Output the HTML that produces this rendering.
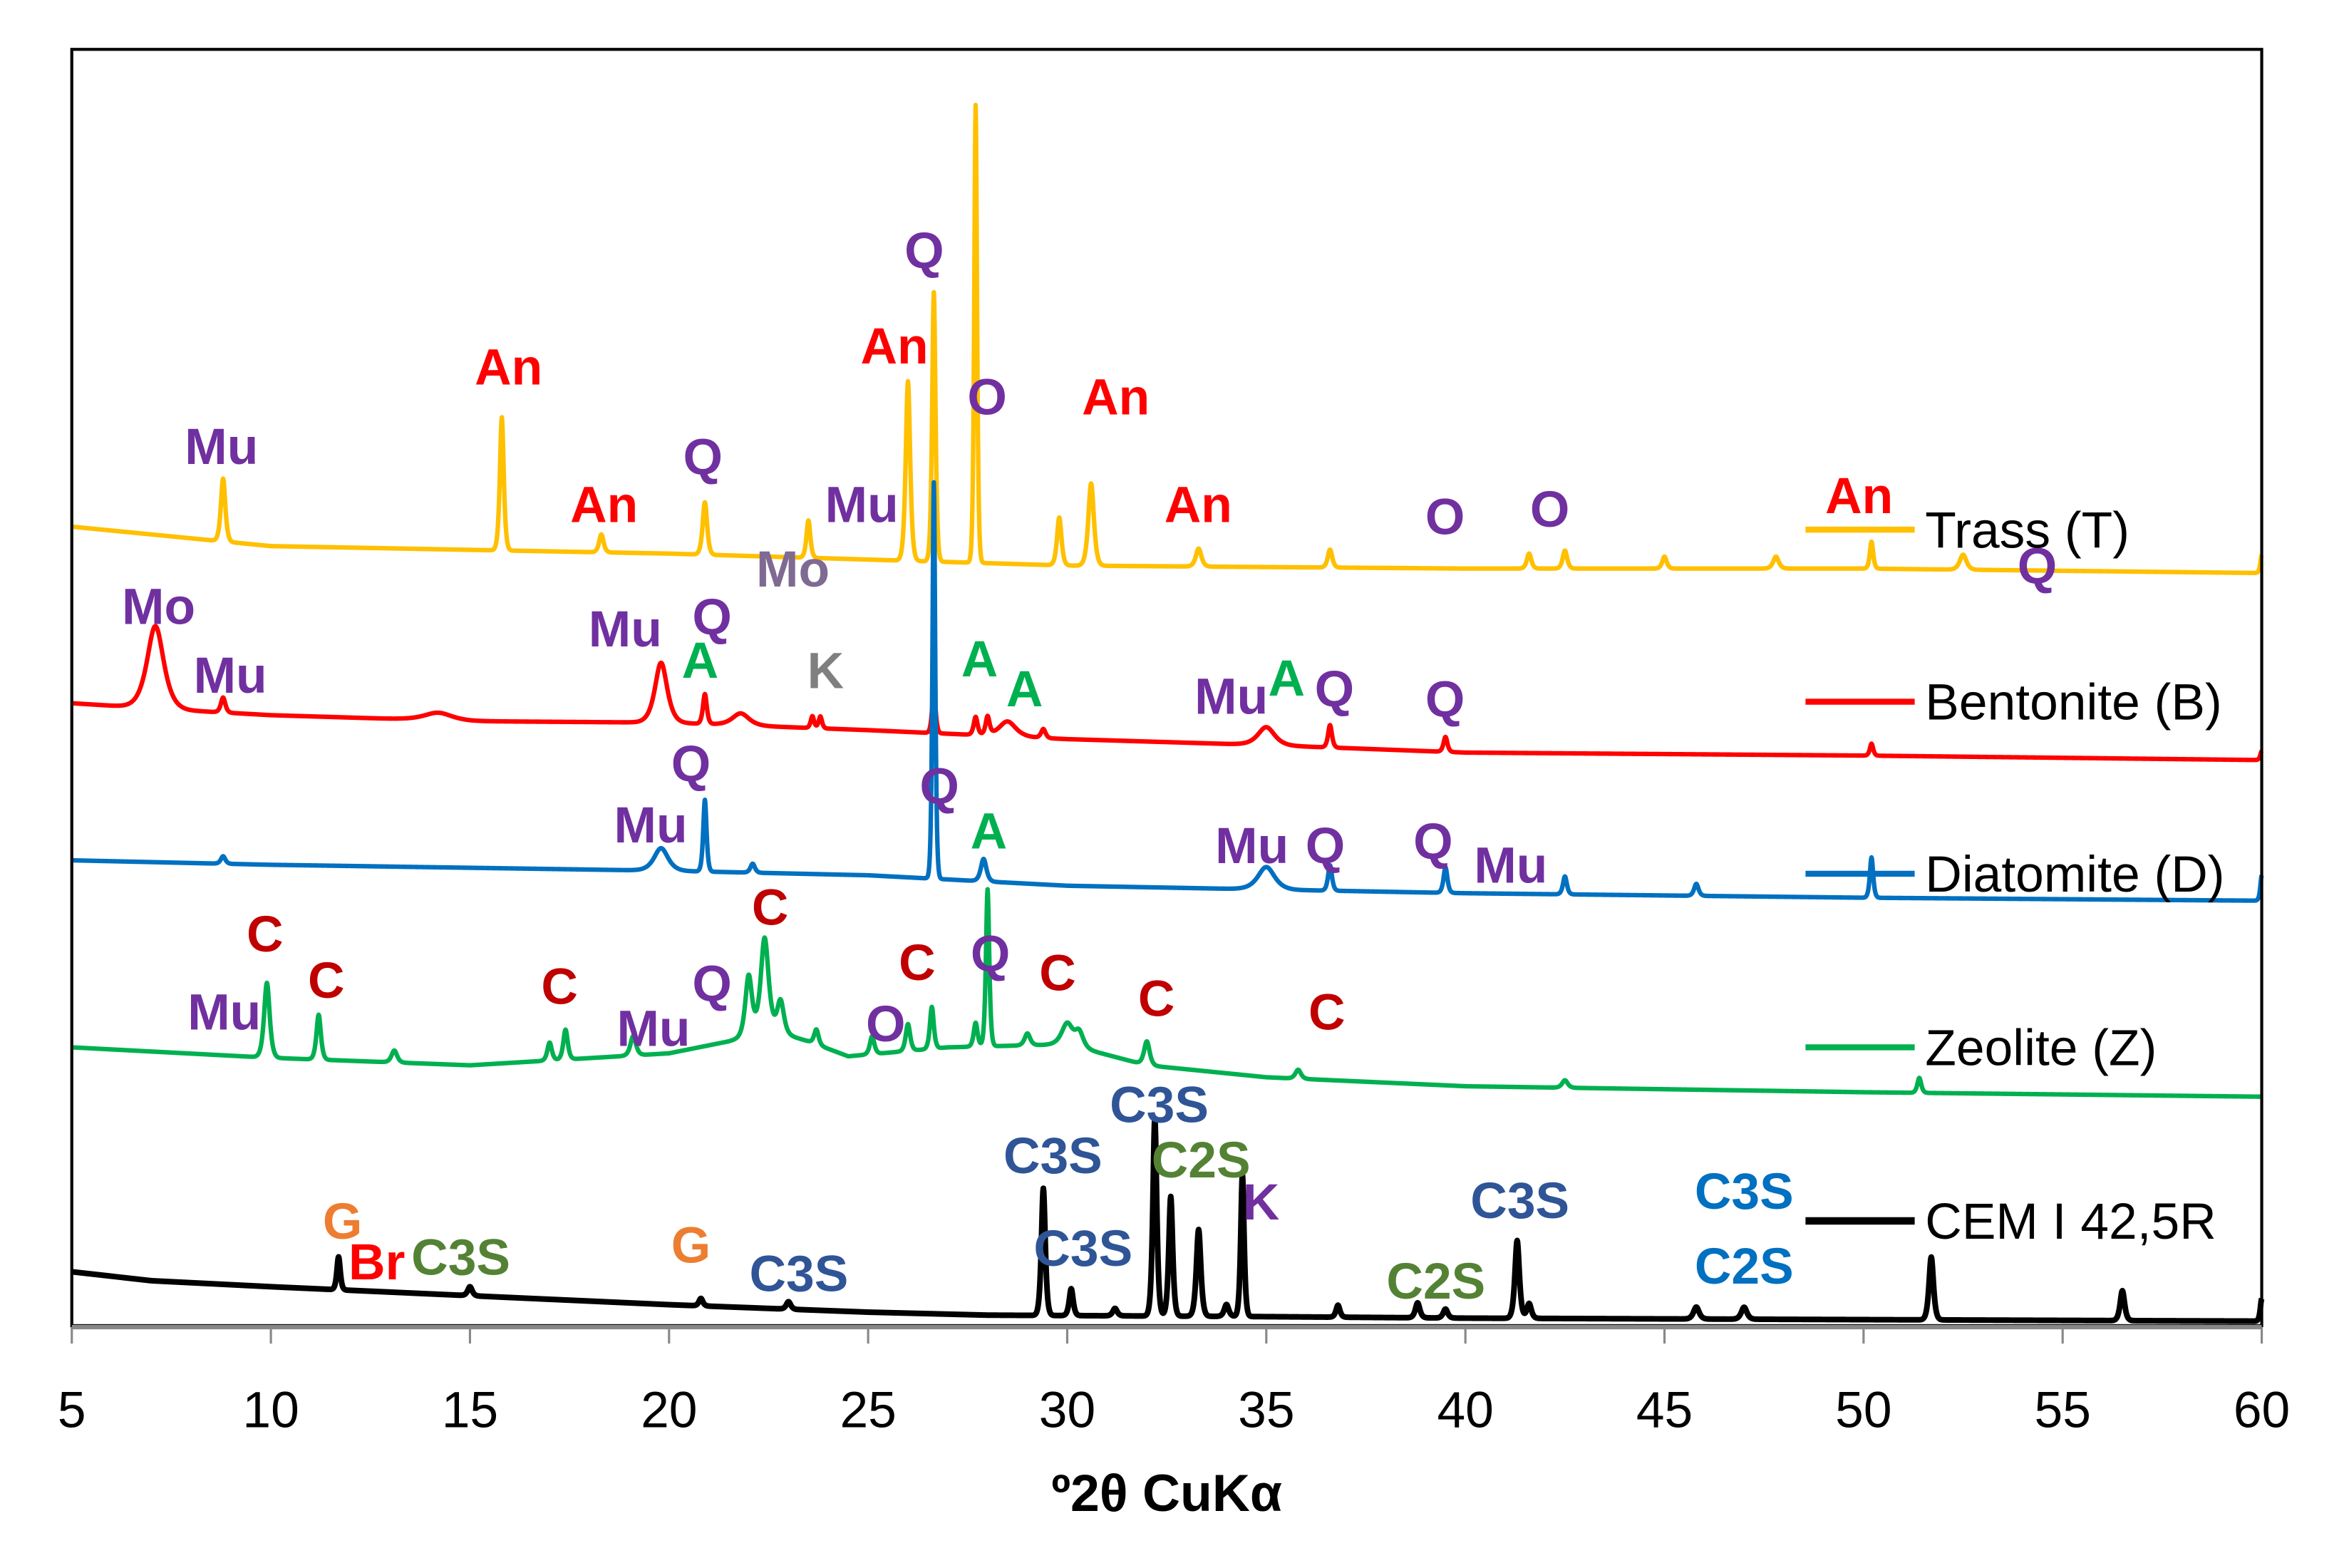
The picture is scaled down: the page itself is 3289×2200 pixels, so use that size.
<!DOCTYPE html>
<html><head><meta charset="utf-8"><style>
html,body{margin:0;padding:0;background:#fff}
svg{display:block}
text{font-family:"Liberation Sans","DejaVu Sans",sans-serif}
.lb{font-weight:bold;font-size:34px}
</style></head><body>
<svg id="chart" width="3289" height="2200" viewBox="0 0 1567 1048" preserveAspectRatio="none" xmlns="http://www.w3.org/2000/svg">
<rect x="0" y="0" width="1567" height="1048" fill="#fff"/>
<g id="series"></g>
<rect x="48" y="33" width="1464" height="853" fill="none" stroke="#000" stroke-width="2"/>
<line x1="48" y1="887" x2="1512" y2="887" stroke="#888" stroke-width="3"/>
<g id="ticks"></g>
<text x="780" y="1010" text-anchor="middle" font-size="35" font-weight="bold">º2θ CuKα</text>
<g id="labels"></g>
<g id="legend"></g>
</svg>
<script>
const xTicks=[5,10,15,20,25,30,35,40,45,50,55,60];
const trassBase=[[5,536],[10,523],[20,518],[30,510],[40,508],[50,508],[60,505]];
const trassPeaks=[[8.8,42,0.08],[15.8,89,0.07],[18.3,12,0.08],[20.9,35,0.08],[23.5,25,0.07],[26.0,120,0.08],[26.65,180,0.06],[27.7,306,0.05],[29.8,32,0.08],[30.6,55,0.1],[33.3,12,0.1],[36.6,12,0.08],[41.6,10,0.08],[42.5,12,0.08],[45,8,0.08],[47.8,8,0.1],[50.2,18,0.06],[52.5,10,0.12],[60,12,0.05]];
const bentBase=[[5,418],[8,413],[10,410],[15,406],[20,405],[25,400],[30,394],[35,390],[40,385],[50,383],[60,380]];
const bentPeaks=[[7.1,55,0.3],[8.8,10,0.08],[14.2,5,0.5],[19.8,40,0.22],[20.9,20,0.07],[21.8,8,0.3],[23.6,8,0.06],[23.8,8,0.06],[26.65,30,0.06],[27.7,12,0.07],[28.0,12,0.07],[28.5,10,0.3],[29.4,6,0.08],[35,12,0.3],[36.6,15,0.07],[39.5,10,0.07],[50.2,8,0.06],[60,6,0.05]];
const diatBase=[[5,313],[10,310],[20,306],[25,303],[30,296],[40,291],[50,288],[60,286]];
const diatPeaks=[[8.8,5,0.08],[19.8,15,0.25],[20.9,48,0.06],[22.1,6,0.08],[26.65,265,0.05],[27.9,15,0.1],[35,15,0.3],[36.6,17,0.07],[39.5,17,0.07],[42.5,12,0.07],[45.8,8,0.08],[50.2,27,0.06],[60,17,0.05]];
const zeoBase=[[5,188],[10,181],[15,176],[20,184],[21.5,192],[22.5,200],[23.5,192],[24.5,182],[27,188],[30,190],[32,176],[35,168],[40,162],[50,158],[60,155]];
const zeoPeaks=[[9.9,50,0.1],[11.2,30,0.08],[13.1,8,0.1],[17,12,0.08],[17.4,20,0.08],[19.1,13,0.1],[22,40,0.12],[22.4,62,0.14],[22.8,22,0.12],[23.7,10,0.08],[25.1,12,0.08],[26,18,0.08],[26.6,28,0.07],[27.7,16,0.07],[28,105,0.06],[29,8,0.1],[30,14,0.2],[30.3,10,0.15],[32,16,0.1],[35.8,6,0.1],[42.5,5,0.1],[51.4,10,0.07]];
const cemBase=[[5,38],[7,32],[10,28],[15,22],[20,16],[25,11],[28,9],[35,8],[40,7],[60,5]];
const cemPeaks=[[11.7,22,0.06],[15,6,0.08],[20.8,5,0.07],[23,5,0.08],[29.4,85,0.07],[30.1,18,0.07],[31.2,5,0.08],[32.2,132,0.07],[32.6,80,0.07],[33.3,58,0.08],[34,8,0.08],[34.4,95,0.06],[36.8,8,0.07],[38.8,10,0.08],[39.5,6,0.08],[41.3,52,0.08],[41.6,10,0.08],[45.8,8,0.1],[47,8,0.1],[51.7,42,0.08],[56.5,20,0.08],[60,15,0.05]];
const seriesNames=["trass","bentonite","diatomite","zeolite","cem"];
const seriesLabels=["Trass (T)","Bentonite (B)","Diatomite (D)","Zeolite (Z)","CEM I 42,5R"];
const seriesColors=["#FFC000","#FF0000","#0070C0","#00B050","#000000"];
const annotations=[
["Mu",8.76,298,"#7030A0"],["An",15.97,245,"#FF0000"],["An",18.37,337,"#FF0000"],["Q",20.85,305,"#7030A0"],["Mo",23.11,380,"#7F6A93"],["Mu",24.84,337,"#7030A0"],["Q",26.41,167,"#7030A0"],["An",25.66,231,"#FF0000"],["O",27.99,265,"#7030A0"],["An",31.22,265,"#FF0000"],["An",33.29,337,"#FF0000"],["O",39.49,345,"#7030A0"],["O",42.12,340,"#7030A0"],["An",49.89,331,"#FF0000"],["Q",54.36,378,"#7030A0"],
["Mo",7.18,405,"#7030A0"],["Mu",8.98,451,"#7030A0"],["Mu",18.9,420,"#7030A0"],["Q",21.08,412,"#7030A0"],["A",20.78,441,"#00B050"],["K",23.93,448,"#7F7F7F"],["A",27.8,440,"#00B050"],["A",28.93,460,"#00B050"],["Mu",34.12,465,"#7030A0"],["A",35.51,453,"#00B050"],["Q",36.71,460,"#7030A0"],["Q",39.49,467,"#7030A0"],
["Q",20.55,510,"#7030A0"],["Mu",19.54,551,"#7030A0"],["Q",26.79,525,"#7030A0"],["A",28.03,555,"#00B050"],["Mu",34.64,565,"#7030A0"],["Q",36.48,565,"#7030A0"],["Q",39.19,562,"#7030A0"],["Mu",41.14,578,"#7030A0"],
["C",9.85,624,"#C00000"],["Mu",8.83,676,"#7030A0"],["C",11.39,655,"#C00000"],["C",17.25,659,"#C00000"],["Mu",19.61,687,"#7030A0"],["Q",21.08,657,"#7030A0"],["C",22.54,606,"#C00000"],["C",26.23,643,"#C00000"],["Q",28.07,637,"#7030A0"],["O",25.44,684,"#7030A0"],["C",29.76,650,"#C00000"],["C",32.24,667,"#C00000"],["C",36.52,676,"#C00000"],
["G",11.8,816,"#ED7D31"],["Br",12.66,843,"#FF0000"],["C3S",14.77,840,"#548235"],["G",20.55,832,"#ED7D31"],["C3S",23.26,851,"#2F5597"],["C3S",29.64,772,"#2F5597"],["C3S",30.4,834,"#2F5597"],["C3S",32.31,738,"#2F5597"],["C2S",33.36,775,"#548235"],["K",34.87,803,"#7030A0"],["C2S",39.26,856,"#548235"],["C3S",41.37,802,"#2F5597"],["C3S",47.0,796,"#0070C0"],["C2S",47.0,846,"#0070C0"]];
const NS="http://www.w3.org/2000/svg";
function xs(t){return 48+(t-5)*1464/55;}
function ys(v){return 888-v;}
function interp(b,t){for(let i=0;i<b.length-1;i++){if(t<=b[i+1][0]){const f=(t-b[i][0])/(b[i+1][0]-b[i][0]);return b[i][1]+f*(b[i+1][1]-b[i][1]);}}return b[b.length-1][1];}
function val(b,p,t){let v=interp(b,t);for(const q of p){const d=(t-q[0])/q[2];v+=q[1]/(1+d*d)*Math.exp(-0.3*d*d);}return v;}
const allBase=[trassBase,bentBase,diatBase,zeoBase,cemBase];
const allPeaks=[trassPeaks,bentPeaks,diatPeaks,zeoPeaks,cemPeaks];
const sg=document.getElementById('series');
const order=[4,3,1,0,2];
for(const i of order){let d="";for(let t=5;t<=60.0001;t+=0.01){d+=(d?"L":"M")+xs(t).toFixed(2)+","+ys(val(allBase[i],allPeaks[i],t)).toFixed(2);}
const p=document.createElementNS(NS,'path');p.setAttribute('d',d);p.setAttribute('fill','none');p.setAttribute('stroke',seriesColors[i]);p.setAttribute('stroke-width',i==4?3.8:3);p.setAttribute('stroke-linejoin','round');


sg.appendChild(p);}
const tg=document.getElementById('ticks');
for(const t of xTicks){const l=document.createElementNS(NS,'line');l.setAttribute('x1',xs(t));l.setAttribute('x2',xs(t));l.setAttribute('y1',887);l.setAttribute('y2',898);l.setAttribute('stroke','#888');l.setAttribute('stroke-width',1.5);


tg.appendChild(l);
const tx=document.createElementNS(NS,'text');tx.setAttribute('x',xs(t));tx.setAttribute('y',954);tx.setAttribute('text-anchor','middle');tx.setAttribute('font-size','34');tx.textContent=t;


tg.appendChild(tx);}
const lg=document.getElementById('labels');
for(const a of annotations){const tx=document.createElementNS(NS,'text');tx.setAttribute('x',xs(a[1]));tx.setAttribute('y',a[2]+12);tx.setAttribute('text-anchor','middle');tx.setAttribute('class','lb');tx.setAttribute('fill',a[3]);tx.textContent=a[0];


lg.appendChild(tx);}
const leg=document.getElementById('legend');const legY=[354,469,584,700,816];
for(let i=0;i<5;i++){const g=document.createElementNS(NS,'g');


const l=document.createElementNS(NS,'line');l.setAttribute('x1',1207);l.setAttribute('x2',1280);l.setAttribute('y1',legY[i]);l.setAttribute('y2',legY[i]);l.setAttribute('stroke',seriesColors[i]);l.setAttribute('stroke-width',i==4?5:4);g.appendChild(l);
const tx=document.createElementNS(NS,'text');tx.setAttribute('x',1287);tx.setAttribute('y',legY[i]+12);tx.setAttribute('font-size','34');tx.textContent=seriesLabels[i];g.appendChild(tx);leg.appendChild(g);}
</script>
</body></html>
